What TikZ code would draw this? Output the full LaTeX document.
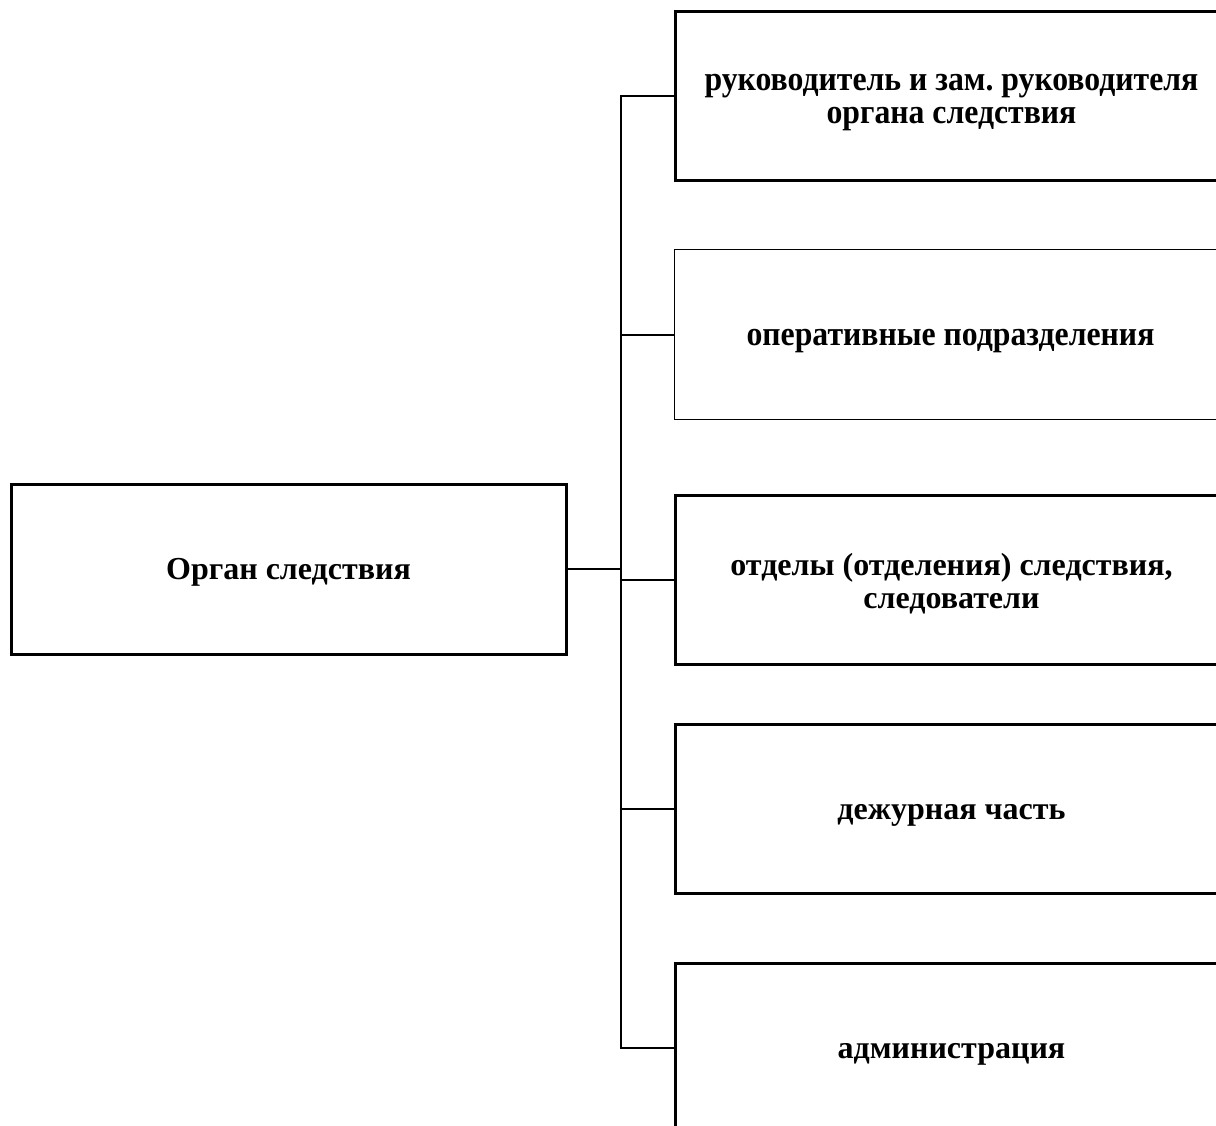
\documentclass[tikz,border=0pt]{standalone}
\usepackage{fontspec}
\setmainfont{Liberation Serif}
\newfontfamily\condfont{Liberation Serif}[FakeStretch=0.92]
\newcommand{\txtat}[2]{\raisebox{#1}[0pt][0pt]{#2}}
\newcommand{\twolines}[2]{\begin{tabular}[t]{@{}c@{}}#1\\#2\end{tabular}}
\frenchspacing
\begin{document}
\begin{tikzpicture}[x=1pt,y=-1pt,
  box/.style={draw=black, line width=3pt, inner sep=0pt, align=center,
    minimum width=552pt, minimum height=169pt, anchor=west,
    font=\fontsize{32}{33}\selectfont\bfseries},
  condbox/.style={box, font=\fontsize{34.5}{33}\condfont\bfseries},
  thinbox/.style={line width=1pt},
  link/.style={draw=black, line width=2pt}]
\useasboundingbox (0,0) rectangle (1216,1126);
\clip (0,0) rectangle (1216,1126);
\node[box, minimum width=555pt, minimum height=170pt] (root) at (9.5,569) {\txtat{-10pt}{Орган следствия}};
\node[condbox] (b1) at (674,96.5) {\txtat{6pt}{\twolines{руководитель и зам. руководителя}{органа следствия}}};
\node[condbox, thinbox] (b2) at (674,334.5) {\txtat{-10.5pt}{оперативные подразделения}};
\node[box] (b3) at (674,579.5) {\txtat{4.5pt}{\twolines{отделы (отделения) следствия,}{следователи}}};
\node[box] (b4) at (674,809) {\txtat{-10pt}{дежурная часть}};
\node[box] (b5) at (674,1048) {\txtat{-10pt}{администрация}};
\coordinate (bus) at (621,0);
\draw[link] (root.east) -- (root.east -| bus);
\draw[link] (b1.west) -- (b1.west -| bus) -- (b5.west -| bus) -- (b5.west);
\draw[link] (b2.west) -- (b2.west -| bus);
\draw[link] (b3.west) -- (b3.west -| bus);
\draw[link] (b4.west) -- (b4.west -| bus);
\end{tikzpicture}
\end{document}
